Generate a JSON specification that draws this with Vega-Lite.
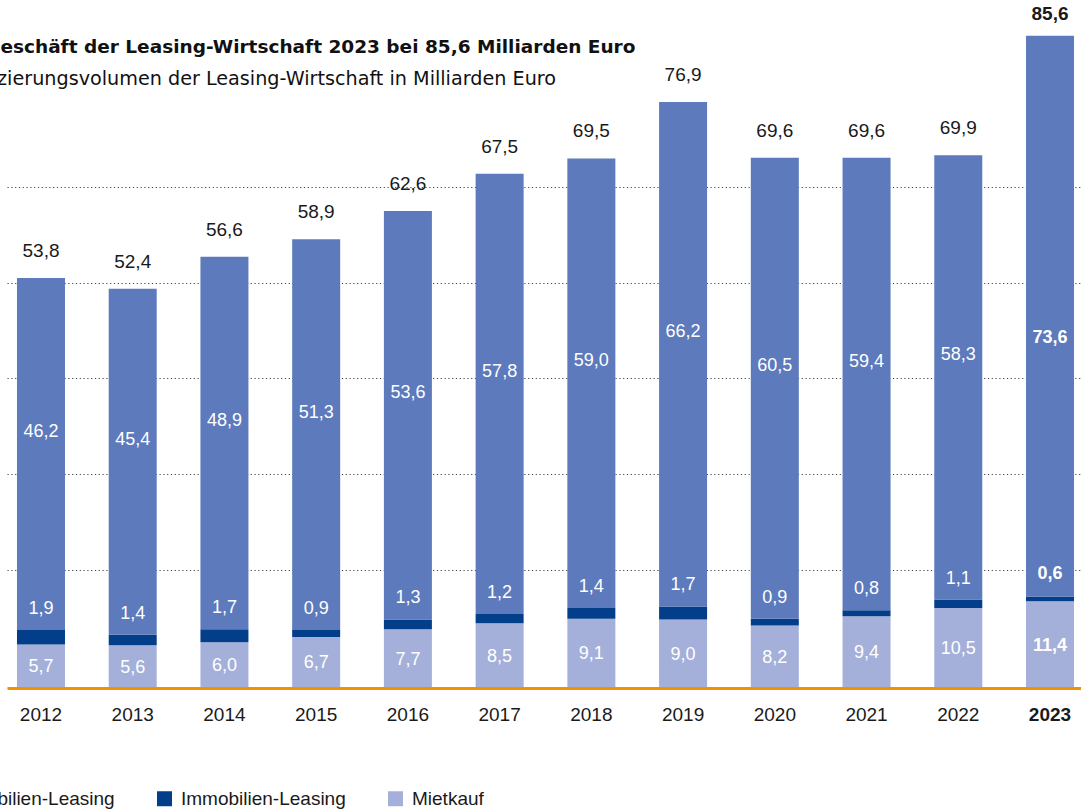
{
  "$schema": "https://vega.github.io/schema/vega-lite/v6.json",
  "autosize": {"type": "none"},
  "padding": {"left": 7, "top": 0, "right": 0, "bottom": 123},
  "width": 1074,
  "height": 688,
  "background": "white",
  "title": {
    "text": "Neugeschäft der Leasing-Wirtschaft 2023 bei 85,6 Milliarden Euro",
    "subtitle": "Finanzierungsvolumen der Leasing-Wirtschaft in Milliarden Euro",
    "anchor": "start",
    "frame": "group",
    "orient": "top",
    "offset": -89,
    "dx": -61,
    "font": "DejaVu Sans",
    "fontSize": 18.5,
    "fontWeight": "bold",
    "color": "#111111",
    "subtitleFont": "DejaVu Sans",
    "subtitleFontSize": 19.2,
    "subtitleColor": "#111111",
    "subtitlePadding": 13
  },
  "data": {
    "values": [
      {"year": "2012", "type": "Mietkauf", "v": 5.7},
      {"year": "2012", "type": "Immobilien-Leasing", "v": 1.9},
      {"year": "2012", "type": "Mobilien-Leasing", "v": 46.2},
      {"year": "2013", "type": "Mietkauf", "v": 5.6},
      {"year": "2013", "type": "Immobilien-Leasing", "v": 1.4},
      {"year": "2013", "type": "Mobilien-Leasing", "v": 45.4},
      {"year": "2014", "type": "Mietkauf", "v": 6.0},
      {"year": "2014", "type": "Immobilien-Leasing", "v": 1.7},
      {"year": "2014", "type": "Mobilien-Leasing", "v": 48.9},
      {"year": "2015", "type": "Mietkauf", "v": 6.7},
      {"year": "2015", "type": "Immobilien-Leasing", "v": 0.9},
      {"year": "2015", "type": "Mobilien-Leasing", "v": 51.3},
      {"year": "2016", "type": "Mietkauf", "v": 7.7},
      {"year": "2016", "type": "Immobilien-Leasing", "v": 1.3},
      {"year": "2016", "type": "Mobilien-Leasing", "v": 53.6},
      {"year": "2017", "type": "Mietkauf", "v": 8.5},
      {"year": "2017", "type": "Immobilien-Leasing", "v": 1.2},
      {"year": "2017", "type": "Mobilien-Leasing", "v": 57.8},
      {"year": "2018", "type": "Mietkauf", "v": 9.1},
      {"year": "2018", "type": "Immobilien-Leasing", "v": 1.4},
      {"year": "2018", "type": "Mobilien-Leasing", "v": 59.0},
      {"year": "2019", "type": "Mietkauf", "v": 9.0},
      {"year": "2019", "type": "Immobilien-Leasing", "v": 1.7},
      {"year": "2019", "type": "Mobilien-Leasing", "v": 66.2},
      {"year": "2020", "type": "Mietkauf", "v": 8.2},
      {"year": "2020", "type": "Immobilien-Leasing", "v": 0.9},
      {"year": "2020", "type": "Mobilien-Leasing", "v": 60.5},
      {"year": "2021", "type": "Mietkauf", "v": 9.4},
      {"year": "2021", "type": "Immobilien-Leasing", "v": 0.8},
      {"year": "2021", "type": "Mobilien-Leasing", "v": 59.4},
      {"year": "2022", "type": "Mietkauf", "v": 10.5},
      {"year": "2022", "type": "Immobilien-Leasing", "v": 1.1},
      {"year": "2022", "type": "Mobilien-Leasing", "v": 58.3},
      {"year": "2023", "type": "Mietkauf", "v": 11.4},
      {"year": "2023", "type": "Immobilien-Leasing", "v": 0.6},
      {"year": "2023", "type": "Mobilien-Leasing", "v": 73.6}
    ]
  },
  "transform": [
    {"calculate": "indexof(['Mietkauf','Immobilien-Leasing','Mobilien-Leasing'], datum.type)", "as": "ord"},
    {"stack": "v", "groupby": ["year"], "sort": [{"field": "ord", "order": "ascending"}], "as": ["v0", "v1"]},
    {"calculate": "(datum.v0 + datum.v1) / 2", "as": "mid"},
    {"joinaggregate": [{"op": "sum", "field": "v", "as": "total"}], "groupby": ["year"]}
  ],
  "encoding": {
    "x": {
      "field": "year",
      "type": "ordinal",
      "scale": {"paddingInner": 0.4767, "paddingOuter": 0.0925, "align": 0.588},
      "axis": {
        "title": null,
        "ticks": false,
        "labelAngle": 0,
        "labelFont": "Liberation Sans",
        "labelFontSize": 19,
        "labelColor": "#1a1a1a",
        "labelPadding": 17,
        "labelFontWeight": {"condition": {"test": "datum.value == '2023'", "value": "bold"}, "value": "normal"},
        "domainColor": "#f39200",
        "domainWidth": 3,
        "zindex": 1
      }
    }
  },
  "layer": [
    {
      "mark": {"type": "bar"},
      "encoding": {
        "y": {
          "field": "v0",
          "type": "quantitative",
          "scale": {"domain": [0, 90.289], "nice": false, "zero": true},
          "axis": {
            "title": null,
            "labels": false,
            "ticks": false,
            "domain": false,
            "grid": true,
            "values": [15.49, 28.02, 40.62, 53.15, 65.75],
            "gridColor": "#444444",
            "gridDash": [1.2, 2.6],
            "gridWidth": 1.2
          }
        },
        "y2": {"field": "v1"},
        "color": {
          "field": "type",
          "type": "nominal",
          "scale": {
            "domain": ["Mobilien-Leasing", "Immobilien-Leasing", "Mietkauf"],
            "range": ["#5c7abc", "#023e8a", "#a4b0d9"]
          },
          "legend": {
            "title": null,
            "orient": "none",
            "legendX": -62,
            "legendY": 789,
            "direction": "horizontal",
            "symbolType": "square",
            "symbolSize": 225,
            "symbolStrokeWidth": 0,
            "symbolOpacity": 1,
            "labelFont": "Liberation Sans",
            "labelFontSize": 19,
            "labelColor": "#1a1a1a",
            "labelOffset": 7,
            "labelLimit": 400,
            "columnPadding": 40,
            "padding": 0
          }
        }
      }
    },
    {
      "transform": [{"filter": "datum.type == 'Mietkauf' && datum.year != '2023'"}],
      "mark": {"type": "text", "font": "Liberation Sans", "fontSize": 18, "color": "white", "baseline": "middle", "dy": 1},
      "encoding": {"y": {"field": "mid", "type": "quantitative"}, "text": {"field": "v", "type": "quantitative", "format": ".1f"}}
    },
    {
      "transform": [{"filter": "datum.type == 'Mietkauf' && datum.year == '2023'"}],
      "mark": {"type": "text", "font": "Liberation Sans", "fontSize": 18, "fontWeight": "bold", "color": "white", "baseline": "middle", "dy": 1},
      "encoding": {"y": {"field": "mid", "type": "quantitative"}, "text": {"field": "v", "type": "quantitative", "format": ".1f"}}
    },
    {
      "transform": [{"filter": "datum.type == 'Immobilien-Leasing' && datum.year != '2023'"}],
      "mark": {"type": "text", "font": "Liberation Sans", "fontSize": 18, "color": "white", "baseline": "middle", "dy": -21},
      "encoding": {"y": {"field": "v1", "type": "quantitative"}, "text": {"field": "v", "type": "quantitative", "format": ".1f"}}
    },
    {
      "transform": [{"filter": "datum.type == 'Immobilien-Leasing' && datum.year == '2023'"}],
      "mark": {"type": "text", "font": "Liberation Sans", "fontSize": 18, "fontWeight": "bold", "color": "white", "baseline": "middle", "dy": -23},
      "encoding": {"y": {"field": "v1", "type": "quantitative"}, "text": {"field": "v", "type": "quantitative", "format": ".1f"}}
    },
    {
      "transform": [{"filter": "datum.type == 'Mobilien-Leasing' && datum.year != '2023'"}],
      "mark": {"type": "text", "font": "Liberation Sans", "fontSize": 18, "color": "white", "baseline": "middle", "dy": -22},
      "encoding": {"y": {"field": "mid", "type": "quantitative"}, "text": {"field": "v", "type": "quantitative", "format": ".1f"}}
    },
    {
      "transform": [{"filter": "datum.type == 'Mobilien-Leasing' && datum.year == '2023'"}],
      "mark": {"type": "text", "font": "Liberation Sans", "fontSize": 18, "fontWeight": "bold", "color": "white", "baseline": "middle", "dy": 22},
      "encoding": {"y": {"field": "mid", "type": "quantitative"}, "text": {"field": "v", "type": "quantitative", "format": ".1f"}}
    },
    {
      "transform": [{"filter": "datum.type == 'Mobilien-Leasing' && datum.year != '2023'"}],
      "mark": {"type": "text", "font": "Liberation Sans", "fontSize": 19, "color": "#1a1a1a", "baseline": "alphabetic", "dy": -21},
      "encoding": {"y": {"field": "v1", "type": "quantitative"}, "text": {"field": "total", "type": "quantitative", "format": ".1f"}}
    },
    {
      "transform": [{"filter": "datum.type == 'Mobilien-Leasing' && datum.year == '2023'"}],
      "mark": {"type": "text", "font": "Liberation Sans", "fontSize": 19, "fontWeight": "bold", "color": "#1a1a1a", "baseline": "alphabetic", "dy": -16},
      "encoding": {"y": {"field": "v1", "type": "quantitative"}, "text": {"field": "total", "type": "quantitative", "format": ".1f"}}
    }
  ],
  "config": {
    "view": {"stroke": null},
    "locale": {"number": {"decimal": ",", "thousands": ".", "grouping": [3], "currency": ["", " €"]}}
  }
}
